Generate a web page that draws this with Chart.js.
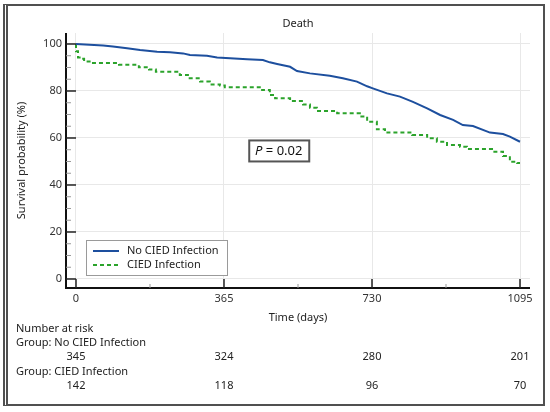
<!DOCTYPE html>
<html>
<head>
<meta charset="utf-8">
<script src="https://cdn.jsdelivr.net/npm/chart.js@4.4.0/dist/chart.umd.min.js"></script>
<style>
  html, body { margin: 0; padding: 0; background: #fff; }
  #frame { position: absolute; left: 3px; top: 4px; width: 535px; height: 398px;
           border: 2px solid #505050; border-left: 5px double #505050; }
  #wrap { position: absolute; left: 0; top: 0; width: 550px; height: 412px; }
</style>
</head>
<body>
<div id="frame"></div>
<div id="wrap"><canvas id="km" width="550" height="412"></canvas></div>
<script>
// values (days, survival %)
const noInfDays = [0, 67, 91, 126, 158, 200, 232, 264, 281, 323, 348, 380, 422, 461, 478, 496, 528, 545, 577, 626, 658, 693, 718, 732, 767, 799, 831, 866, 898, 930, 954, 979, 1021, 1053, 1070, 1095];
const noInfSurv = [100, 99.4, 98.9, 98.2, 97.4, 96.7, 96.5, 96.0, 95.3, 95.0, 94.3, 93.9, 93.5, 93.2, 92.2, 91.5, 90.3, 88.5, 87.5, 86.5, 85.4, 84.0, 82.0, 81.1, 79.0, 77.6, 75.4, 72.6, 69.8, 67.7, 65.5, 65.1, 62.3, 61.7, 60.6, 58.4];

const infDays = [0, 5, 12, 20, 37, 106, 155, 180, 197, 256, 276, 306, 330, 355, 367, 459, 478, 491, 528, 560, 577, 594, 644, 700, 718, 742, 762, 829, 866, 890, 915, 947, 964, 1026, 1053, 1070, 1088, 1095];
const infSurv = [100, 96.9, 94.3, 93.7, 92.6, 91.9, 91.2, 90.1, 89.1, 88.2, 86.8, 85.4, 84.0, 82.8, 82.3, 81.6, 80.4, 78.3, 76.9, 75.7, 74.3, 72.9, 71.5, 70.5, 69.1, 66.9, 63.7, 62.3, 61.3, 59.9, 58.4, 57.0, 56.3, 55.3, 54.2, 52.3, 49.9, 49.4];

const groupNames = ['No CIED Infection', 'CIED Infection'];
const xTicks = [0, 365, 730, 1095];
const yTicks = [0, 20, 40, 60, 80, 100];
const riskNoInf = [345, 324, 280, 201];
const riskInf = [142, 118, 96, 70];

const BLUE = '#1d4f9e';
const GREEN = '#2ba32b';
const FONT = '"Noto Sans", "DejaVu Sans", sans-serif';
const TXT = '#222';

// axes, legend, p-value box and risk table
const kmDecor = {
  id: 'kmDecor',
  afterDraw(chart) {
    const ctx = chart.ctx;
    const a = chart.chartArea;
    const xs = chart.scales.x, ys = chart.scales.y;
    const x0 = xs.getPixelForValue(0), y0 = ys.getPixelForValue(0);
    ctx.save();

    // title
    ctx.fillStyle = TXT;
    ctx.font = '11px ' + FONT;
    ctx.textAlign = 'center';
    ctx.textBaseline = 'middle';
    ctx.fillText('Death', (a.left + a.right) / 2, 24);

    // axis lines
    ctx.strokeStyle = '#111';
    ctx.lineWidth = 2;
    ctx.beginPath();
    ctx.moveTo(a.left, a.top); ctx.lineTo(a.left, a.bottom);
    ctx.lineTo(a.right, a.bottom);
    ctx.stroke();

    // y ticks
    for (let v = 0; v <= 100; v += 5) {
      const py = ys.getPixelForValue(v);
      const major = v % 20 === 0;
      ctx.strokeStyle = major ? '#222' : '#999';
      ctx.lineWidth = major ? 1.5 : 1;
      ctx.beginPath();
      ctx.moveTo(a.left, py); ctx.lineTo(major ? x0 : a.left + 5, py);
      ctx.stroke();
    }
    // x ticks
    for (let d = 0; d <= 1095; d += 182.5) {
      const px = xs.getPixelForValue(d);
      const major = Math.abs(d % 365) < 1;
      ctx.strokeStyle = major ? '#222' : '#999';
      ctx.lineWidth = major ? 1.5 : 1;
      ctx.beginPath();
      ctx.moveTo(px, a.bottom); ctx.lineTo(px, major ? y0 : a.bottom - 4);
      ctx.stroke();
    }

    // legend
    const lx = a.left + 20, ly = a.bottom - 48;
    ctx.fillStyle = '#fff';
    ctx.fillRect(lx, ly, 141, 35);
    ctx.strokeStyle = '#9a9a9a';
    ctx.lineWidth = 1;
    ctx.strokeRect(lx + 0.5, ly + 0.5, 141, 35);
    const cols = [BLUE, GREEN];
    groupNames.forEach((name, i) => {
      const yy = ly + 11 + i * 14;
      ctx.strokeStyle = cols[i];
      ctx.lineWidth = 2;
      ctx.setLineDash(i === 1 ? [4, 3] : []);
      ctx.beginPath();
      ctx.moveTo(lx + 7, yy); ctx.lineTo(lx + 33, yy);
      ctx.stroke();
      ctx.setLineDash([]);
      ctx.fillStyle = TXT;
      ctx.font = '11px ' + FONT;
      ctx.textAlign = 'left';
      ctx.fillText(name, lx + 41, yy);
    });

    // p value box
    const cx = xs.getPixelForValue(500), cy = ys.getPixelForValue(54.7);
    ctx.fillStyle = '#fff';
    ctx.fillRect(cx - 30, cy - 10.5, 60, 21);
    ctx.strokeStyle = '#555';
    ctx.strokeRect(cx - 30 + 0.5, cy - 10.5 + 0.5, 60, 21);
    ctx.fillStyle = '#111';
    ctx.textAlign = 'left';
    ctx.font = 'italic 13px ' + FONT;
    const pW = ctx.measureText('P').width;
    ctx.font = '13px ' + FONT;
    const restW = ctx.measureText(' = 0.02').width;
    let tx = cx - (pW + restW) / 2;
    ctx.font = 'italic 13px ' + FONT;
    ctx.fillText('P', tx, cy + 1);
    ctx.font = '13px ' + FONT;
    ctx.fillText(' = 0.02', tx + pW, cy + 1);

    // number at risk table
    ctx.fillStyle = TXT;
    ctx.font = '11px ' + FONT;
    ctx.textAlign = 'left';
    ctx.fillText('Number at risk', 16, 329);
    ctx.fillText('Group: ' + groupNames[0], 16, 343);
    ctx.fillText('Group: ' + groupNames[1], 16, 372);
    ctx.textAlign = 'center';
    xTicks.forEach((d, i) => {
      const px = xs.getPixelForValue(d);
      ctx.fillText(String(riskNoInf[i]), px, 357);
      ctx.fillText(String(riskInf[i]), px, 386);
    });
    ctx.restore();
  }
};

new Chart(document.getElementById('km'), {
  type: 'line',
  data: {
    datasets: [{
      label: groupNames[0],
      data: noInfDays.map((d, i) => ({ x: d, y: noInfSurv[i] })),
      borderColor: BLUE,
      borderWidth: 2,
      pointRadius: 0,
      tension: 0
    }, {
      label: groupNames[1],
      data: infDays.map((d, i) => ({ x: d, y: infSurv[i] })),
      borderColor: GREEN,
      borderWidth: 2,
      borderDash: [4, 3],
      pointRadius: 0,
      stepped: 'after'
    }]
  },
  options: {
    responsive: false,
    animation: false,
    layout: { padding: { left: 10, right: 20, top: 33, bottom: 88 } },
    plugins: { legend: { display: false }, tooltip: { enabled: false } },
    scales: {
      x: {
        type: 'linear',
        min: -24.66,
        max: 1119.66,
        afterBuildTicks: s => { s.ticks = xTicks.map(v => ({ value: v })); },
        afterFit: s => { s.height = 36; },
        grid: { color: '#e8e8e8', drawTicks: false },
        border: { display: false },
        ticks: { padding: 4, color: '#333', font: { family: FONT, size: 11 }, maxRotation: 0, autoSkip: false,
                 callback: v => String(v) },
        title: { display: true, text: 'Time (days)', color: TXT, padding: 0, font: { family: FONT, size: 11 } }
      },
      y: {
        min: -3.83,
        max: 104.68,
        afterBuildTicks: s => { s.ticks = yTicks.map(v => ({ value: v })); },
        afterFit: s => { s.width = 56; },
        grid: { color: '#e8e8e8', drawTicks: false },
        border: { display: false },
        ticks: { padding: 4, color: '#333', font: { family: FONT, size: 11 }, callback: v => String(v) },
        title: { display: true, text: 'Survival probability (%)', color: TXT, padding: { top: 5, bottom: 0 }, font: { family: FONT, size: 11 } }
      }
    }
  },
  plugins: [kmDecor]
});
</script>
</body>
</html>
